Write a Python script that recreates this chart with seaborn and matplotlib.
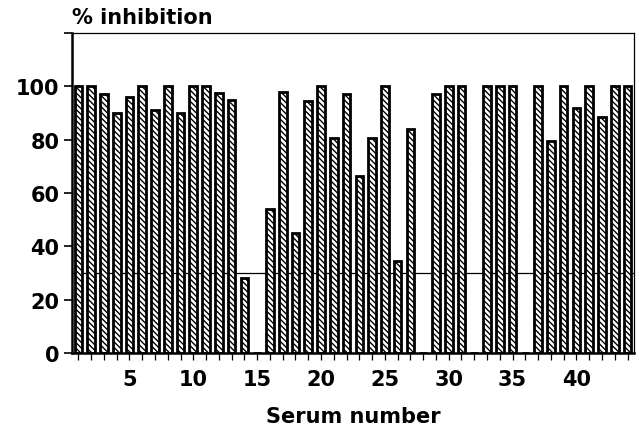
import matplotlib
matplotlib.use("Agg")
import matplotlib.pyplot as plt
import seaborn as sns
import pandas as pd

serum = list(range(1, 45))
inhibition = [100, 100, 97, 90, 96, 100, 91, 100, 90, 100,
              100, 97.5, 95, 28, 0, 54, 98, 45, 94.5, 100,
              80.5, 97, 66.5, 80.5, 100, 34.5, 84, 0, 97, 100,
              100, 0, 100, 100, 100, 0, 100, 79.5, 100, 92,
              100, 88.5, 100, 100]
cutoff = 30
ytick_vals = [0, 20, 40, 60, 80, 100, 120]
ytick_labels = ["0", "20", "40", "60", "80", "100", ""]
xtick_labels = [str(s) if s % 5 == 0 else "" for s in serum]

sns.set_style("ticks")
plt.rcParams["font.family"] = ["DejaVu Sans"]
plt.rcParams["hatch.linewidth"] = 1.0
plt.rcParams["hatch.color"] = "black"
for k in ["text.color", "axes.labelcolor", "xtick.color", "ytick.color", "axes.edgecolor"]:
    plt.rcParams[k] = "black"

df = pd.DataFrame({"serum": serum, "inhibition": inhibition})

fig = plt.figure(figsize=(6.39, 4.31), dpi=100)
ax = fig.add_axes([0.1127, 0.1787, 0.8793, 0.7423])

sns.barplot(data=df, x="serum", y="inhibition", order=serum, color="white",
            edgecolor="black", linewidth=2.0, width=0.6, hatch="\\\\\\\\\\\\",
            ax=ax, saturation=1)

ax.axhline(cutoff, color="black", linewidth=0.9, zorder=0.5)

ax.set_xlim(-0.5, len(serum) - 0.5)
ax.set_ylim(0, 120)
ax.set_yticks(ytick_vals)
ax.set_yticklabels(ytick_labels, fontsize=15, fontweight="bold")
ax.set_xticks(range(len(serum)))
ax.set_xticklabels(xtick_labels, fontsize=15, fontweight="bold")
ax.tick_params(axis="x", length=5, width=0.9, pad=6.5, direction="out")
ax.tick_params(axis="y", length=6, width=1.2, pad=3, direction="out")

for side in ["left", "bottom"]:
    ax.spines[side].set_linewidth(1.8)
for side in ["top", "right"]:
    ax.spines[side].set_visible(True)
    ax.spines[side].set_linewidth(0.9)

ax.set_xlabel("Serum number", fontsize=15, fontweight="bold", labelpad=12)
ax.set_ylabel("")
fig.text(0.1127, 0.935, "% inhibition", fontsize=15, fontweight="bold",
         ha="left", va="bottom")

fig.savefig("out.png", dpi=100)
